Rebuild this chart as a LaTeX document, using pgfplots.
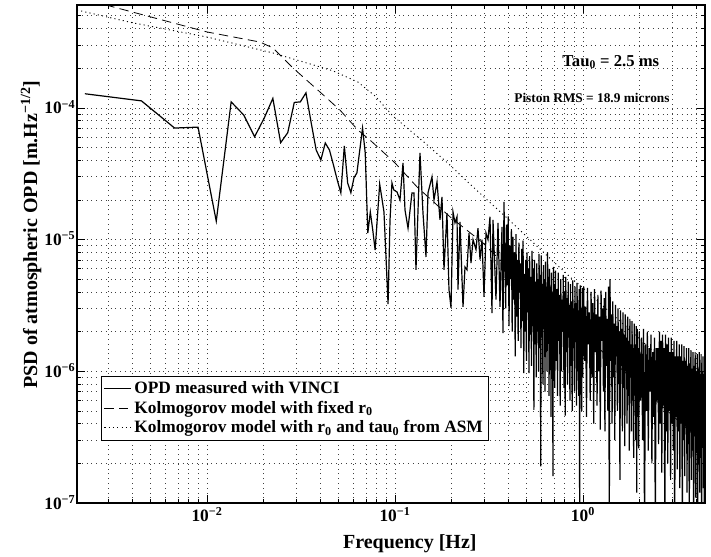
\documentclass[border=0pt]{standalone}
\usepackage{fontspec}
\setmainfont{Liberation Serif}
\usepackage{pgfplots}
\pgfplotsset{compat=1.18}

\begin{document}
\begin{tikzpicture}
\path[use as bounding box] (-57.75pt,-40.5pt) rectangle (475.5pt,377.25pt);
\begin{axis}[
    at={(0,0)}, anchor=south west,
    scale only axis, width=471pt, height=373.5pt,
    xmode=log, ymode=log,
    xmin=0.002034, xmax=4.456,
    ymin=1e-7, ymax=6.04e-4,
    xtick={0.01,0.1,1},
    ytick={1e-7,1e-6,1e-5,1e-4},
    minor xtick={0.003,0.004,0.005,0.006,0.007,0.008,0.009,
                 0.02,0.03,0.04,0.05,0.06,0.07,0.08,0.09,
                 0.2,0.3,0.4,0.5,0.6,0.7,0.8,0.9,2,3,4},
    minor ytick={2e-7,3e-7,4e-7,5e-7,6e-7,7e-7,8e-7,9e-7,
                 2e-6,3e-6,4e-6,5e-6,6e-6,7e-6,8e-6,9e-6,
                 2e-5,3e-5,4e-5,5e-5,6e-5,7e-5,8e-5,9e-5,
                 2e-4,3e-4,4e-4,5e-4,6e-4},
    xticklabels={\textbf{10}\textsuperscript{−2}, \textbf{10}\textsuperscript{−1}, \textbf{10}\textsuperscript{0}},
    yticklabels={\textbf{10}\textsuperscript{−7}, \textbf{10}\textsuperscript{−6}, \textbf{10}\textsuperscript{−5}, \textbf{10}\textsuperscript{−4}},
    tick label style={font=\bfseries\fontsize{13}{13}\selectfont},
    yticklabel style={anchor=base east, inner sep=1pt, yshift=-4.5pt},
    grid=both,
    major grid style={black!75, line width=0.5pt, dash pattern=on 0.6pt off 3pt},
    minor grid style={black!75, line width=0.5pt, dash pattern=on 0.6pt off 3pt},
    tick align=inside, major tick length=6pt, minor tick length=3pt,
    tick style={black, line width=0.5pt},
    axis line style={line width=0.8pt},
    xlabel={Frequency [Hz]},
    ylabel={PSD of atmospheric OPD [m.Hz\textsuperscript{−1/2}]},
    label style={font=\bfseries\fontsize{15}{15}\selectfont},
    xlabel style={at={(axis description cs:0.53,-0.082)}, anchor=center},
    ylabel style={at={(axis description cs:-0.073,0.539)}, anchor=center},
    legend style={at={(axis description cs:0.038,0.255)}, anchor=north west,
        draw=black, line width=0.5pt, fill=white, inner sep=2pt,
        font=\bfseries\fontsize{13}{14.5}\selectfont, cells={anchor=west}},
    legend image code/.code={\draw[#1] (0pt,0pt) -- (20pt,0pt);},
]

% OPD measured with VINCI
\addplot[black, line width=0.9pt] coordinates {
(0.00224,1.28e-4) (0.00448,1.13e-4) (0.00672,7.03e-5) (0.00896,7.14e-5)
(0.0112,1.38e-5) (0.01344,1.11e-4) (0.01568,8.83e-5) (0.01792,6.04e-5)
(0.02016,8.38e-5) (0.0224,1.18e-4) (0.02464,5.44e-5) (0.02688,6.48e-5)
(0.02912,1.10e-4) (0.03136,1.11e-4) (0.0336,1.30e-4) (0.03584,7.68e-5)
(0.03808,4.79e-5) (0.04032,4.02e-5) (0.04256,5.41e-5) (0.0448,4.79e-5)
(0.04704,3.69e-5) (0.04928,2.84e-5) (0.05152,2.26e-5) (0.05376,5.14e-5)
(0.056,2.69e-5) (0.05824,2.27e-5) (0.06048,2.94e-5) (0.06272,3.21e-5)
(0.06496,4.79e-5) (0.0672,7.03e-5) (0.06944,4.55e-5) (0.07168,1.12e-5)
(0.07392,1.62e-5) (0.07616,1.18e-5) (0.0784,8.34e-6) (0.08064,1.49e-5)
(0.08288,2.64e-5) (0.08512,2.07e-5) (0.08736,1.62e-5) (0.0896,7.25e-6)
(0.09184,3.24e-6) (0.09408,1.41e-5) (0.09632,2.69e-5) (0.09856,2.38e-5)
(0.1025,2.30e-5) (0.1063,2.0e-5) (0.1103,3.82e-5) (0.1130,1.68e-5)
(0.1173,1.22e-5) (0.1231,2.26e-5) (0.1262,2.26e-5) (0.1293,5.9e-6)
(0.1358,4.55e-5) (0.1409,1.59e-5) (0.1462,7.38e-6) (0.1498,2.26e-5)
(0.1573,2.99e-5) (0.1612,2.0e-5) (0.1673,2.74e-5) (0.1735,1.41e-5)
(0.1778,2.11e-5) (0.1822,5.9e-6) (0.1890,1.59e-5) (0.1937,4.17e-6)
(0.1986,3.03e-6) (0.2035,1.62e-5) (0.2085,1.34e-5) (0.2137,1.49e-5)
(0.2163,4.17e-6) (0.2217,1.36e-5) (0.2300,3.08e-6) (0.2357,6.19e-6)
(0.2415,5.9e-6) (0.2475,1.12e-5) (0.2537,6.64e-6) (0.2600,1.0e-5)
(0.2697,8.4e-6) (0.2763,1.22e-5) (0.2833,7.06e-6) (0.2903,1.0e-5)
(0.2975,3.67e-6) (0.3048,1.12e-5) (0.3124,1.0e-5) (0.3201,1.49e-5)
(0.3281,2.77e-6) (0.3321,1.41e-5) (0.3445,3.5e-6) (0.3531,1.34e-5)
(0.3618,3.08e-6) (0.3708,1.25e-5) (0.3753,1.95e-6) (0.3800,1.93e-5)
(0.388,3.0e-6) (0.392,1.3e-5) (0.396,4.5e-6) (0.400,1.5e-5)
(0.404,2.2e-6) (0.408,9.0e-6) (0.412,5.0e-6) (0.416,1.2e-5)
(0.420,2.0e-6) (0.424,1.05e-5) (0.428,3.5e-6) (0.432,8.0e-6)
(0.436,1.3e-6) (0.440,1.1e-5) (0.444,2.6e-6) (0.448,7.0e-6)
(0.452,1.7e-6) (0.456,9.5e-6) (0.460,4.0e-6) (0.464,6.6e-6)
(0.468,1.5e-6) (0.472,8.5e-6) (0.476,2.4e-6) (0.480,9.8e-6)
(0.484,9.7e-7) (0.488,5.5e-6) (0.492,2.0e-6) (0.496,7.0e-6)
(0.500,1.2e-6) (0.504,8.0e-6) (0.508,2.8e-6) (0.512,6.0e-6)
(0.516,9.7e-7) (0.520,7.5e-6) (0.524,1.9e-6) (0.528,5.2e-6)
(0.532,1.1e-6) (0.536,8.2e-6) (0.540,2.2e-6) (0.544,6.0e-6)
(0.548,5.1e-7) (0.552,7.0e-6) (0.556,1.6e-6) (0.560,4.8e-6)
(0.564,9.0e-7) (0.568,6.6e-6) (0.572,2.0e-6) (0.576,5.0e-6)
(0.580,1.0e-6) (0.584,7.8e-6) (0.588,1.5e-6) (0.592,5.4e-6)
(0.596,1.9e-7) (0.600,7.6e-6) (0.604,1.8e-6) (0.608,4.6e-6)
(0.612,8.0e-7) (0.616,6.4e-6) (0.620,2.2e-6) (0.624,5.0e-6)
(0.628,7.0e-7) (0.632,6.8e-6) (0.636,1.4e-6) (0.640,4.4e-6)
(0.644,1.0e-6) (0.648,8.0e-6) (0.652,2.0e-6) (0.656,5.2e-6)
(0.660,6.5e-7) (0.664,6.0e-6) (0.668,1.3e-6) (0.672,4.4e-6)
(0.676,4.5e-7) (0.680,5.6e-6) (0.684,1.8e-6) (0.688,3.9e-6)
(0.692,1.6e-7) (0.696,6.2e-6) (0.700,1.1e-6) (0.704,4.6e-6)
(0.708,7.5e-7)
(0.714,5.8e-6) (0.720,1.2e-6) (0.726,4.2e-6) (0.732,6.5e-7)
(0.738,5.6e-6) (0.744,1.7e-6) (0.750,3.8e-6) (0.756,5.5e-7)
(0.762,5.0e-6) (0.768,1.0e-6) (0.774,3.5e-6) (0.780,2.0e-6)
(0.786,5.4e-6) (0.792,7.5e-7) (0.798,4.0e-6) (0.804,4.6e-7)
(0.810,5.2e-6) (0.816,1.4e-6) (0.822,3.6e-6) (0.828,8.0e-7)
(0.834,4.8e-6) (0.840,1.8e-6) (0.846,3.2e-6) (0.852,6.0e-7)
(0.858,4.6e-6) (0.864,1.1e-6) (0.870,3.4e-6) (0.876,5.0e-7)
(0.882,4.9e-6) (0.888,1.5e-6) (0.894,3.0e-6) (0.900,7.0e-7)
(0.906,4.4e-6) (0.912,1.9e-6) (0.918,3.3e-6) (0.924,5.5e-7)
(0.930,4.7e-6) (0.936,1.0e-6) (0.942,2.9e-6) (0.948,6.5e-7)
(0.954,4.2e-6) (0.960,8.0e-8) (0.966,4.5e-6) (0.972,1.3e-6)
(0.978,3.0e-6) (0.984,5.0e-7) (0.990,4.3e-6) (0.996,9.0e-7)
(1.008,4.4e-6) (1.020,1.2e-6) (1.032,3.1e-6) (1.044,4.5e-7)
(1.056,4.3e-6) (1.068,1.6e-6) (1.080,2.8e-6) (1.092,6.0e-7)
(1.104,4.0e-6) (1.116,9.0e-7) (1.128,3.3e-6) (1.140,4.0e-7)
(1.152,4.2e-6) (1.164,1.4e-6) (1.176,2.7e-6) (1.188,5.5e-7)
(1.200,3.8e-6) (1.212,1.0e-6) (1.224,2.6e-6) (1.236,3.6e-7)
(1.248,4.1e-6) (1.260,1.7e-6) (1.272,3.0e-6) (1.284,7.0e-7)
(1.296,3.6e-6) (1.308,3.5e-7) (1.320,4.0e-6) (1.332,1.1e-6)
(1.344,2.5e-6) (1.356,5.0e-7) (1.368,4.4e-6) (1.380,7.0e-8)
(1.392,5.0e-6) (1.404,1.2e-6) (1.416,2.7e-6) (1.428,4.0e-7)
(1.440,3.4e-6) (1.452,9.0e-7) (1.464,2.3e-6) (1.476,3.0e-7)
(1.488,3.2e-6) (1.500,1.3e-6) (1.512,2.2e-6) (1.524,5.0e-7)
(1.536,3.0e-6) (1.548,8.0e-7) (1.560,2.0e-6) (1.572,1.5e-7)
(1.584,2.9e-6) (1.596,1.1e-6) (1.608,2.1e-6) (1.620,3.5e-7)
(1.632,2.8e-6) (1.644,7.5e-7) (1.656,1.9e-6) (1.668,2.7e-7)
(1.680,2.7e-6) (1.692,1.0e-6) (1.704,1.8e-6) (1.716,4.0e-7)
(1.728,2.6e-6) (1.740,6.5e-7) (1.752,1.7e-6) (1.764,2.5e-7)
(1.776,2.5e-6) (1.788,9.0e-7) (1.800,1.6e-6) (1.812,3.5e-7)
(1.824,2.4e-6) (1.836,6.0e-7) (1.848,1.5e-6) (1.860,2.2e-7)
(1.872,2.3e-6) (1.884,8.0e-7) (1.896,1.6e-6) (1.908,3.0e-7)
(1.920,2.2e-6) (1.932,1.2e-7) (1.944,2.1e-6) (1.956,5.0e-7)
(1.968,1.5e-6) (1.980,2.6e-7) (1.992,2.0e-6)
(2.025,6.0e-7) (2.050,1.8e-6) (2.075,3.0e-7) (2.100,2.1e-6)
(2.125,6.0e-8) (2.150,1.6e-6) (2.175,5.0e-7) (2.200,2.0e-6)
(2.225,2.5e-7) (2.250,1.5e-6) (2.275,7.0e-7) (2.300,1.9e-6)
(2.325,2.0e-7) (2.350,1.4e-6) (2.375,4.5e-7) (2.400,1.8e-6)
(2.425,6.0e-8) (2.450,1.5e-6) (2.475,6.0e-7) (2.500,1.5e-6)
(2.525,2.8e-7) (2.550,2.0e-6) (2.575,4.0e-7) (2.600,1.7e-6)
(2.625,1.7e-7) (2.650,1.9e-6) (2.675,5.5e-7) (2.700,1.5e-6)
(2.725,6.0e-8) (2.750,1.9e-6) (2.775,3.5e-7) (2.800,1.6e-6)
(2.825,2.0e-7) (2.850,1.8e-6) (2.875,5.0e-7) (2.900,1.4e-6)
(2.925,1.5e-7) (2.950,1.8e-6) (2.975,4.0e-7) (3.000,1.4e-6)
(3.025,2.5e-7) (3.050,1.7e-6) (3.075,6.0e-8) (3.100,1.3e-6)
(3.125,4.5e-7) (3.150,1.7e-6) (3.175,1.8e-7) (3.200,1.3e-6)
(3.225,3.5e-7) (3.250,1.6e-6) (3.275,1.3e-7) (3.300,1.3e-6)
(3.325,4.0e-7) (3.350,1.6e-6) (3.375,6.0e-8) (3.400,1.2e-6)
(3.425,3.0e-7) (3.450,1.55e-6) (3.475,1.6e-7) (3.500,1.2e-6)
(3.525,3.8e-7) (3.550,1.5e-6) (3.575,1.2e-7) (3.600,1.1e-6)
(3.625,2.8e-7) (3.650,1.5e-6) (3.675,6.0e-8) (3.700,1.15e-6)
(3.725,3.5e-7) (3.750,1.45e-6) (3.775,1.5e-7) (3.800,1.05e-6)
(3.825,2.5e-7) (3.850,1.4e-6) (3.875,6.0e-8) (3.900,1.1e-6)
(3.925,3.2e-7) (3.950,1.4e-6) (3.975,1.1e-7) (4.000,1.0e-6)
(4.025,2.4e-7) (4.050,1.35e-6) (4.075,6.0e-8) (4.100,1.05e-6)
(4.125,3.0e-7) (4.150,1.4e-6) (4.175,1.2e-7) (4.200,9.5e-7)
(4.225,2.2e-7) (4.250,1.35e-6) (4.275,6.0e-8) (4.300,1.0e-6)
(4.325,2.8e-7) (4.350,1.3e-6) (4.375,1.3e-7) (4.400,9.5e-7)
(4.425,6.0e-8) (4.450,1.3e-6)
};

% Kolmogorov model with fixed r0
\addplot[black, line width=0.6pt, dash pattern=on 7pt off 4pt] coordinates {
(0.002034,6.89e-4) (0.002904,6.04e-4) (0.01,3.77e-4) (0.01915,3.16e-4)
(0.02244,2.85e-4) (0.02864,2.01e-4) (0.0399,1.32e-4) (0.0509,9.64e-5)
(0.0635,6.79e-5) (0.0736,5.70e-5) (0.1,3.82e-5) (0.131,2.51e-5)
(0.196,1.49e-5) (0.294,9.42e-6) (0.446,5.20e-6) (0.755,2.77e-6)
(4.456,2.75e-7)
};

% Kolmogorov model with r0 and tau0 from ASM
\addplot[black, line width=0.7pt, dash pattern=on 0.8pt off 2.4pt] coordinates {
(0.002034,5.53e-4) (0.004036,4.42e-4) (0.01,3.45e-4) (0.02244,2.61e-4)
(0.03126,2.27e-4) (0.0468,1.91e-4) (0.0635,1.57e-4) (0.0784,1.23e-4)
(0.0975,8.67e-5) (0.1445,5.41e-5) (0.196,3.68e-5) (0.260,2.51e-5)
(0.394,1.46e-5) (0.590,8.49e-6) (0.853,5.20e-6) (1.0,4.30e-6)
(4.456,6.27e-7)
};

\legend{OPD measured with VINCI,
        Kolmogorov model with fixed r\textsubscript{0},
        Kolmogorov model with r\textsubscript{0} and tau\textsubscript{0} from ASM}

\node[font=\bfseries\fontsize{12.5}{13}\selectfont] at (axis description cs:0.850,0.886)
    {Tau\textsubscript{0} = 2.5 ms};
\node[font=\bfseries\fontsize{10}{11}\selectfont] at (axis description cs:0.820,0.813)
    {Piston RMS = 18.9 microns};
\end{axis}
\end{tikzpicture}
\end{document}
